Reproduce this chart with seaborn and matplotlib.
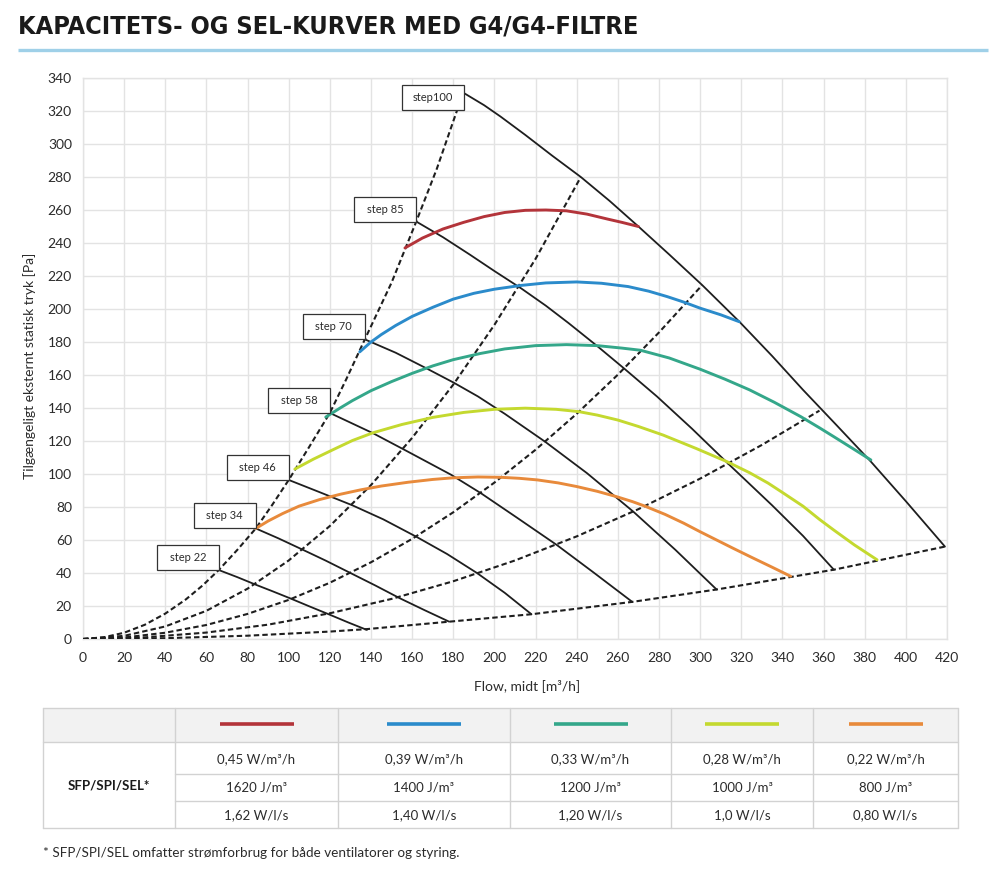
import matplotlib
matplotlib.use("Agg")
import matplotlib.pyplot as plt
import matplotlib.transforms as mtransforms
from matplotlib.patches import Rectangle
import seaborn as sns

# ------------------------------------------------------------------ data
x_ticks = list(range(0, 421, 20))
y_ticks = list(range(0, 341, 20))

# system curves (dashed)
dash1_q = [0, 10, 20, 30, 40, 50, 58, 66, 75, 84, 92, 100, 110, 120, 128, 137, 150, 162, 172, 182]
dash1_p = [0, 1, 3.8, 8.6, 15.4, 24, 32.3, 41.8, 54, 67, 81.3, 96.4, 116.5, 137, 157.5, 181.6, 216, 253, 285, 321]
dash2_q = [0, 20, 40, 60, 80, 100, 120, 140, 160, 180, 200, 220, 242]
dash2_p = [0, 1.9, 7.6, 17.1, 30.5, 47.6, 68.5, 93.3, 121.9, 154.2, 190.4, 230.4, 280]
dash3_q = [0, 20, 40, 60, 80, 100, 120, 140, 160, 180, 200, 220, 240, 260, 280, 301]
dash3_p = [0, 0.9, 3.8, 8.5, 15.2, 23.7, 34.1, 46.5, 60.7, 76.8, 94.8, 114.7, 136.5, 160.2, 185.8, 214.5]
dash4_q = [0, 30, 60, 90, 120, 150, 180, 210, 240, 270, 300, 330, 358]
dash4_p = [0, 1, 3.9, 8.7, 15.6, 24.3, 35, 47.6, 62.2, 78.7, 97.2, 117.6, 138.4]
dash5_q = [0, 40, 80, 120, 138, 178, 218, 267, 308, 365, 419]
dash5_p = [0, 0.5, 2, 4.5, 6, 10.5, 15, 22.5, 30, 42, 56]

# fan curves per step (solid black)
step22_q = [66, 75, 84.4, 92, 100.6, 110, 120, 129, 138]
step22_p = [41.8, 37.5, 32.7, 29, 24.7, 19.8, 14.7, 10, 5.5]
step34_q = [84, 95, 107, 118, 130, 142, 154, 166, 178]
step34_p = [67, 61, 54, 47.5, 40, 32.5, 24.7, 17.5, 10.5]
step46_q = [100, 115, 131, 146, 162, 177, 191.5, 205, 218]
step46_p = [96.4, 89, 81, 72.5, 62, 51.5, 40, 28, 15]
step58_q = [120, 141, 156.5, 179, 193.5, 211, 230.3, 248, 267]
step58_p = [137, 124.7, 114.5, 99.5, 88.3, 73.5, 57, 40.5, 22.5]
step70_q = [137, 152, 167, 180, 192, 205, 224.6, 245, 267.5, 288, 308]
step70_p = [181.6, 173.5, 164, 155.5, 147, 136.5, 119.6, 100.5, 77.2, 54, 30]
step85_q = [162, 175, 188, 200, 213, 225, 236, 250, 263, 279, 296, 313, 335, 350, 365]
step85_p = [253, 243.5, 233, 223, 212.5, 202, 191.5, 177.5, 164, 147, 127.5, 107, 81, 62.5, 42]
step100_q = [185, 195, 203, 215, 228, 242, 256, 270, 285, 301, 319, 335, 350, 366, 383, 400, 419]
step100_p = [331, 323.5, 316.6, 305.5, 293, 280, 265.5, 250, 233, 214.5, 192.4, 171.5, 151, 130, 107.5, 83.5, 56]
step_labels = ["step 22", "step 34", "step 46", "step 58", "step 70", "step 85", "step100"]
label_dy = [0, 0, 0, 0, 0, 0, -17]   # vertical shift of label box (pixels)

# SEL curves (coloured)
red_q = [156.5, 165, 175, 185, 195, 205, 215, 225, 235, 245, 255, 262, 270]
red_p = [237, 243, 248.5, 252.5, 256, 258.5, 259.8, 260, 259.5, 257.5, 254.5, 252.5, 250]
blue_q = [134.5, 140, 145, 152, 160, 170, 180, 190, 200, 213, 225, 240, 252, 265, 275, 284, 292, 300, 310, 319]
blue_p = [174, 180, 184.5, 190, 195.5, 201, 206, 209.5, 212, 214.3, 215.8, 216.4, 215.6, 213.6, 210.8, 207.5, 204.2, 200.5, 196.5, 192.3]
green_q = [118, 125, 131, 140, 150, 160, 170, 180, 193, 205, 220, 235, 250, 262, 271, 285, 300, 312, 324, 336, 349, 358, 365, 375, 383]
green_p = [134.5, 140, 144.5, 150.5, 156, 161, 165.5, 169.3, 173, 175.8, 177.8, 178.4, 177.8, 176.3, 175, 170.3, 163.5, 157.5, 151, 143.5, 134.7, 128, 122.6, 114.8, 108.5]
lime_q = [103, 112, 122, 131, 141, 155, 170, 185, 200, 215, 230, 241, 250, 260, 270, 282, 298, 313, 324, 333, 340, 350, 358, 365, 375, 386]
lime_p = [103, 109, 115, 120.3, 125, 130, 134.3, 137.3, 139.2, 139.9, 139.2, 137.8, 135.7, 132.7, 128.8, 123.6, 115.5, 107.5, 100.8, 94.5, 88.8, 80.5, 72.5, 66, 57, 48]
orange_q = [84, 90, 97, 105, 115, 125, 135, 145, 158, 170, 180, 192, 203, 212, 221, 231, 240, 250, 259, 267, 273, 283, 292, 300, 308, 316, 325, 335, 344]
orange_p = [67, 71.5, 76, 80.5, 84.5, 87.7, 90.4, 92.7, 95, 96.7, 97.7, 98.2, 98, 97.4, 96.4, 94.6, 92.4, 89.5, 86.4, 83.3, 80.6, 75.5, 70.2, 65, 60, 55, 49.5, 43.5, 38]

sel_colors = ["#b3343a", "#2b8bcb", "#34a78a", "#c4d92f", "#e88a3b"]
sfp_whm = ["0,45 W/m³/h", "0,39 W/m³/h", "0,33 W/m³/h", "0,28 W/m³/h", "0,22 W/m³/h"]
sfp_jm = ["1620 J/m³", "1400 J/m³", "1200 J/m³", "1000 J/m³", "800 J/m³"]
sfp_wls = ["1,62 W/l/s", "1,40 W/l/s", "1,20 W/l/s", "1,0 W/l/s", "0,80 W/l/s"]

title = "KAPACITETS- OG SEL-KURVER MED G4/G4-FILTRE"
xlabel = "Flow, midt [m³/h]"
ylabel = "Tilgængeligt eksternt statisk tryk [Pa]"
row_header = "SFP/SPI/SEL*"
footnote = "* SFP/SPI/SEL omfatter strømforbrug for både ventilatorer og styring."

# ------------------------------------------------------------------ style
sns.set_theme(style="white")
plt.rcParams["font.family"] = ["Lato", "DejaVu Sans"]
TXT = "#2b2b2b"
GRID = "#e3e3e3"

W, H = 1000, 872
fig = plt.figure(figsize=(W / 100, H / 100), dpi=100)

ax = fig.add_axes([83 / W, 1 - 639 / H, 864 / W, 561 / H])
ax.set_xlim(0, 420)
ax.set_ylim(0, 340)
ax.set_xticks(x_ticks)
ax.set_yticks(y_ticks)
ax.grid(True, color=GRID, lw=1.0)
ax.tick_params(axis="both", length=0, labelsize=10, labelcolor=TXT)
ax.tick_params(axis="y", pad=8)
ax.tick_params(axis="x", pad=9)
for s in ax.spines.values():
    s.set_color(GRID)
    s.set_linewidth(1.0)
ax.set_axisbelow(True)

dash_style = (0, (2.6, 1.5))
for q, p in [(dash1_q, dash1_p), (dash2_q, dash2_p), (dash3_q, dash3_p),
             (dash4_q, dash4_p), (dash5_q, dash5_p)]:
    sns.lineplot(x=q, y=p, ax=ax, color="#1e1e1e", lw=1.5, linestyle=dash_style,
                 sort=False, estimator=None, zorder=3)

steps_q = [step22_q, step34_q, step46_q, step58_q, step70_q, step85_q, step100_q]
steps_p = [step22_p, step34_p, step46_p, step58_p, step70_p, step85_p, step100_p]
for q, p in zip(steps_q, steps_p):
    sns.lineplot(x=q, y=p, ax=ax, color="#1e1e1e", lw=1.3, sort=False,
                 estimator=None, zorder=4)

for q, p, c in zip([red_q, blue_q, green_q, lime_q, orange_q],
                   [red_p, blue_p, green_p, lime_p, orange_p], sel_colors):
    sns.lineplot(x=q, y=p, ax=ax, color=c, lw=2.1, sort=False, estimator=None, zorder=5)

ax.set_xlabel("")
ax.set_ylabel("")

# step label boxes: lower-right corner at the start of each step curve
BW, BH = 62, 25
ident = mtransforms.IdentityTransform()
for q, p, lab, dy in zip(steps_q, steps_p, step_labels, label_dy):
    xd, yd = ax.transData.transform((q[0], p[0]))
    yd = yd + dy
    fig.patches.append(Rectangle((xd - BW, yd), BW, BH, transform=ident, fc="white",
                                 ec="#333333", lw=0.9, zorder=10, figure=fig))
    fig.text(xd - BW / 2, yd + BH / 2, lab, transform=ident, ha="center", va="center",
             fontsize=8, color=TXT, zorder=11)

# ------------------------------------------------------------------ overlay (pixel coordinates)
ov = fig.add_axes([0, 0, 1, 1], zorder=-1)
ov.set_xlim(0, W)
ov.set_ylim(H, 0)
ov.axis("off")

t = ov.text(18, 26, title, fontsize=21, fontweight="bold", color="#1a1a1a",
            family=["DejaVu Sans"], fontstretch="condensed", va="center", ha="left")
fig.canvas.draw()
tw = t.get_window_extent().width
t.set_fontsize(21 * 617 / tw)

ov.plot([18, 988], [50.5, 50.5], color="#9fd0e8", lw=2.4, solid_capstyle="butt")

ov.text(527, 686, xlabel, fontsize=10, color=TXT, ha="center", va="center")
ov.text(30, 366, ylabel, fontsize=10, color=TXT, ha="center", va="center", rotation=90)

# table
cols = [43, 175, 338, 510, 671, 813, 958]
rows = [708, 741.5, 774, 800.5, 828]
ov.fill_between([cols[0], cols[-1]], rows[0], rows[1], color="#f2f2f2", lw=0)
LC = "#d2d2d2"
ov.plot([cols[0], cols[-1]], [rows[0], rows[0]], color=LC, lw=1)
ov.plot([cols[0], cols[-1]], [rows[-1], rows[-1]], color=LC, lw=1)
ov.plot([cols[0], cols[-1]], [rows[1], rows[1]], color=LC, lw=1)
for r in rows[2:4]:
    ov.plot([cols[1], cols[-1]], [r, r], color=LC, lw=1)
for c in cols:
    ov.plot([c, c], [rows[0], rows[-1]], color=LC, lw=1)

ov.text((cols[0] + cols[1]) / 2, (rows[1] + rows[-1]) / 2 + 1, row_header, fontsize=9.5,
        fontweight="bold", color="#1a1a1a", ha="center", va="center")
for i, col in enumerate(sel_colors):
    cx = (cols[i + 1] + cols[i + 2]) / 2
    ov.plot([cx - 37, cx + 37], [724, 724], color=col, lw=2.6, solid_capstyle="butt")
    ov.text(cx, (rows[1] + rows[2]) / 2 + 1, sfp_whm[i], fontsize=9.5, color=TXT, ha="center", va="center")
    ov.text(cx, (rows[2] + rows[3]) / 2, sfp_jm[i], fontsize=9.5, color=TXT, ha="center", va="center")
    ov.text(cx, (rows[3] + rows[4]) / 2 + 1, sfp_wls[i], fontsize=9.5, color=TXT, ha="center", va="center")

ov.text(43, 853, footnote, fontsize=9.7, color=TXT, ha="left", va="center")

fig.savefig("out.png", dpi=100, facecolor="white")
